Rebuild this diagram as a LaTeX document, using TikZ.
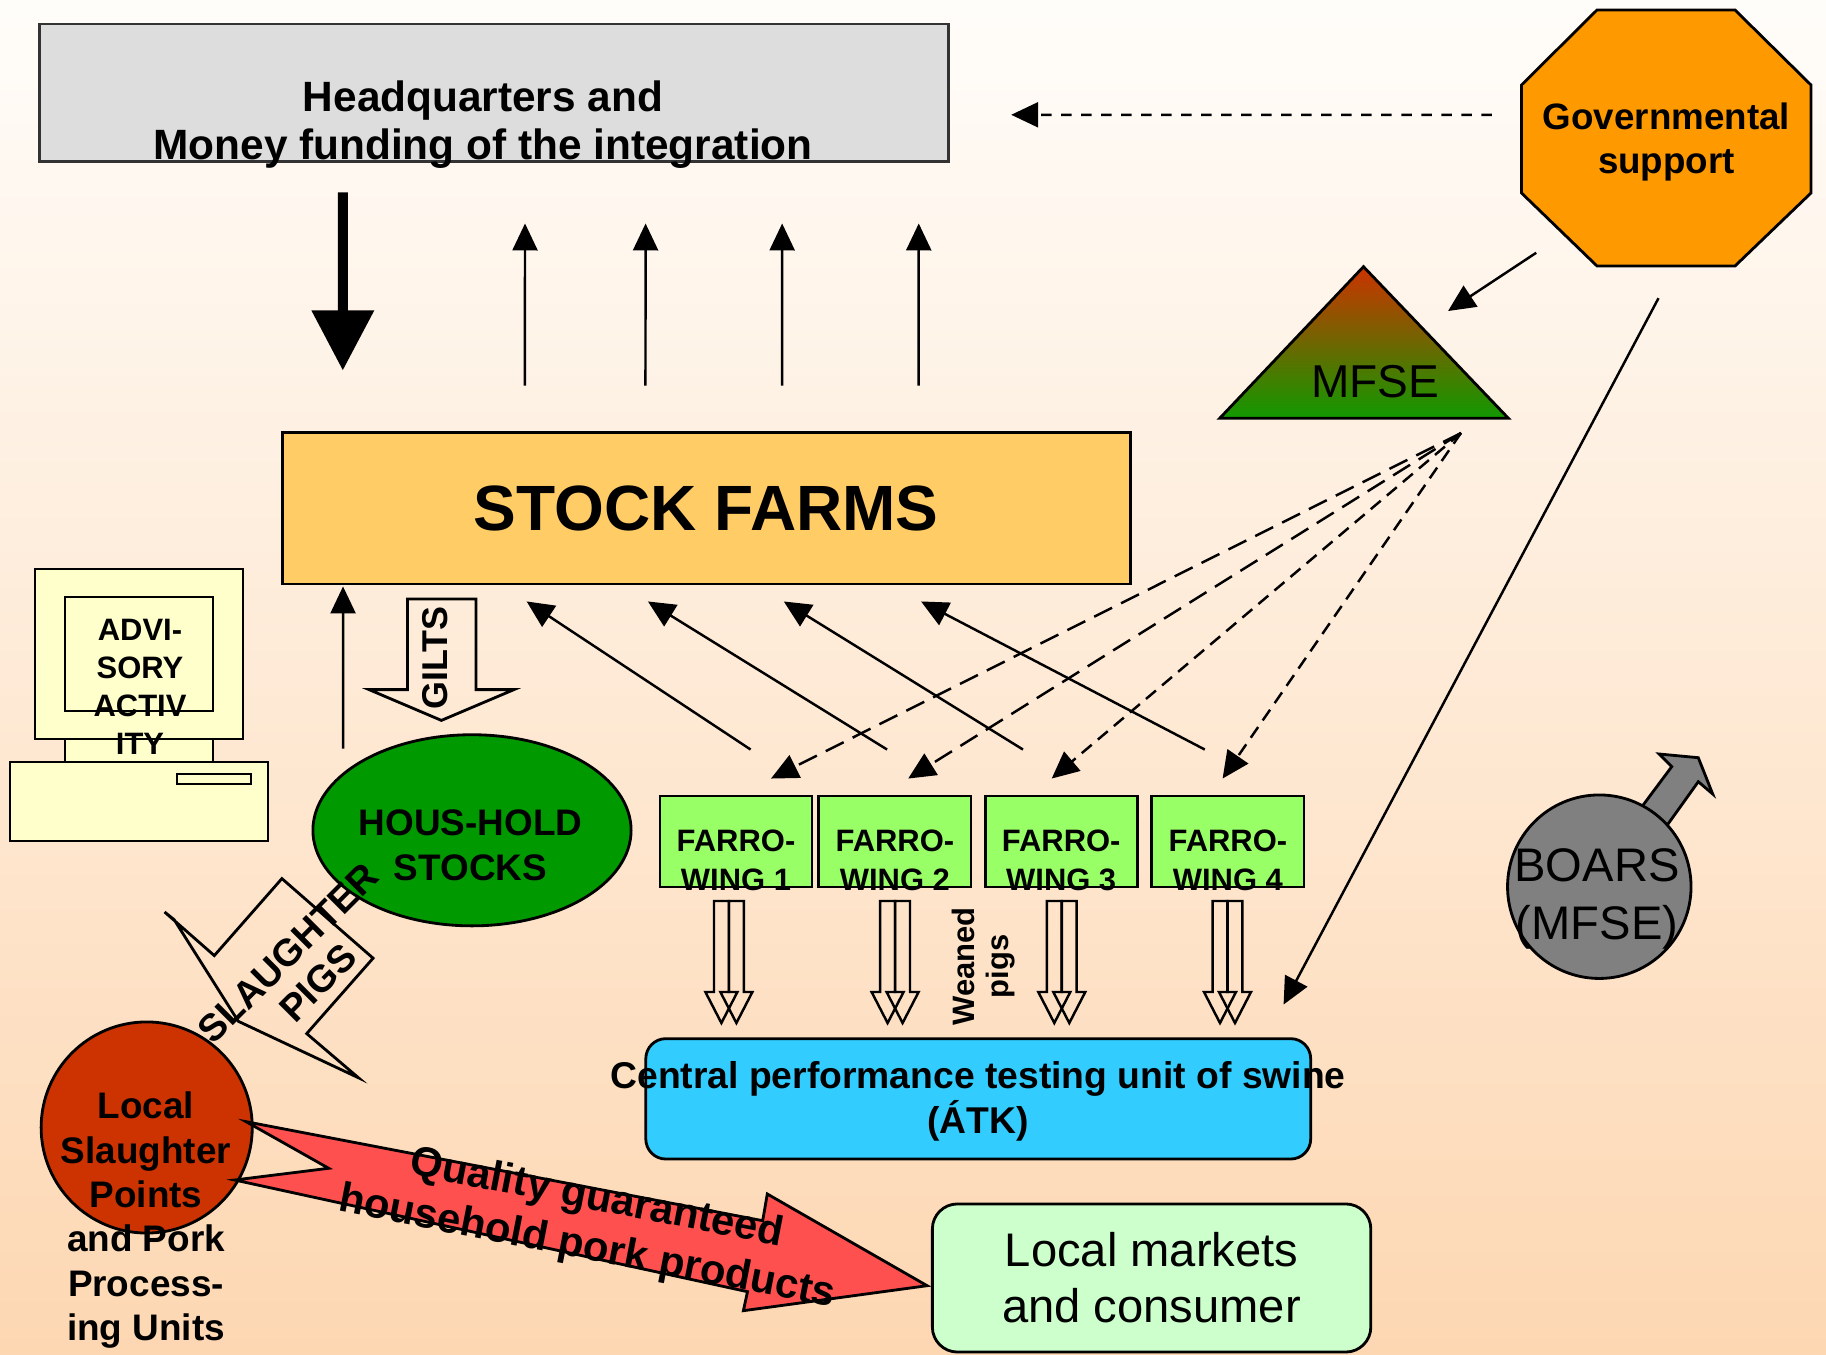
\documentclass[tikz,border=0pt]{standalone}
\usepackage{fontspec}
\setmainfont{Liberation Sans}
\usetikzlibrary{arrows.meta,shapes.geometric}

\definecolor{bgtop}{HTML}{FFFDFA}
\definecolor{bgbot}{HTML}{FDD7B2}
\definecolor{hqgray}{HTML}{DDDDDD}
\definecolor{govorange}{HTML}{FF9900}
\definecolor{mfsered}{HTML}{CC3300}
\definecolor{mfsegreen}{HTML}{119900}
\definecolor{farmyellow}{HTML}{FFCC66}
\definecolor{screenyellow}{HTML}{FFFFCC}
\definecolor{housegreen}{HTML}{009900}
\definecolor{winggreen}{HTML}{99FF66}
\definecolor{atkblue}{HTML}{33CCFF}
\definecolor{meatred}{HTML}{CC3300}
\definecolor{productred}{HTML}{FF5050}
\definecolor{marketgreen}{HTML}{CCFFCC}
\definecolor{boargray}{HTML}{808080}

\newcommand{\fsz}[2]{\fontsize{#1}{#2}\selectfont}

\tikzstyle{block} = [rectangle, draw, line width=0.8pt, inner sep=0pt]
\tikzstyle{txt} = [inner sep=0pt, align=center]
\tikzstyle{arr} = [line width=0.7pt, -{Triangle[length=0.27cm,width=0.25cm]}]
\tikzstyle{govdash} = [arr, dash pattern=on 0.105cm off 0.095cm]
\tikzstyle{longdash} = [arr, dash pattern=on 0.2cm off 0.1cm]
\tikzstyle{shortdash} = [arr, dash pattern=on 0.13cm off 0.08cm]
\tikzstyle{bigarrow} = [line width=0.1cm, -{Triangle[length=0.6cm,width=0.6cm]}]
\tikzstyle{hollow} = [draw, line width=0.7pt, line join=miter]

% one hollow block arrow below a farrowing wing
\newcommand{\pigarrow}[1]{\draw[hollow] (#1-7.4,901) -- (#1+7.4,901) -- (#1+7.4,992) -- (#1+16,992) -- (#1,1023) -- (#1-16,992) -- (#1-7.4,992) -- cycle;}
\newcommand{\pigpair}[1]{\pigarrow{#1+7.5}\pigarrow{#1-7.5}}

\begin{document}
\begin{tikzpicture}[x=0.01cm, y=-0.01cm]
        \useasboundingbox (0,0) rectangle (1826,1355);
        \shade[top color=bgtop, bottom color=bgbot] (0,0) rectangle (1826,1355);

        % Headquarters
        \node[block, draw=black!80, fill=hqgray, minimum width=9.08cm, minimum height=1.375cm] (hq) at (494,92.75) {};
        \node[txt, font=\fsz{12.05pt}{13.6pt}\bfseries] (hqtext) at (483,124.5) {Headquarters and\\Money funding of the integration};

        % Governmental support (octagon)
        \filldraw[fill=govorange, line width=0.8pt] (1597,10) -- (1735,10) -- (1811,85) -- (1811,193) -- (1735,266) -- (1597,266) -- (1521.5,193) -- (1521.5,85) -- cycle;
        \node[txt, minimum width=2.9cm, minimum height=2.56cm, font=\fsz{10.45pt}{12.5pt}\bfseries] (gov) at (1666.4,142) {Governmental\\support};
        \draw[govdash] ([xshift=-0.288cm,yshift=0.272cm]gov.west) -- ([xshift=0.615cm,yshift=-0.2205cm]hq.east);

        % MFSE triangle
        \coordinate (mfsetop) at (1363.5,266.7);
        \coordinate (mfseleft) at (1219.7,418.3);
        \coordinate (mfseright) at (1508.4,418.3);
        \shadedraw[top color=mfsered, bottom color=mfsegreen, line width=0.8pt] (mfsetop) -- (mfseleft) -- (mfseright) -- cycle;
        \node[anchor=base, inner sep=0pt, font=\fsz{13.1pt}{15pt}] (mfse) at (1375,398) {MFSE};
        \coordinate (mfsefan) at (1461,433);
        \draw[arr] ([xshift=0.156cm,yshift=0.18cm]gov.south west) -- ([xshift=0.845cm,yshift=-0.443cm]mfsetop);

        % Stock farms
        \node[block, fill=farmyellow, minimum width=8.475cm, minimum height=1.515cm, font=\fsz{18.2pt}{22pt}\bfseries] (stock) at (706.25,508.25) {STOCK FARMS};
        \draw[bigarrow] ([xshift=-1.51cm,yshift=-0.295cm]hq.south) -- ([xshift=-3.6325cm,yshift=0.605cm]stock.north);
        \draw[arr] ([xshift=-1.8125cm,yshift=0.455cm]stock.north) -- ([xshift=0.31cm,yshift=-0.605cm]hq.south);
        \draw[arr] ([xshift=-0.6075cm,yshift=0.455cm]stock.north) -- ([xshift=1.515cm,yshift=-0.605cm]hq.south);
        \draw[arr] ([xshift=0.7575cm,yshift=0.455cm]stock.north) -- ([xshift=2.88cm,yshift=-0.605cm]hq.south);
        \draw[arr] ([xshift=2.1225cm,yshift=0.455cm]stock.north) -- ([xshift=4.245cm,yshift=-0.605cm]hq.south);

        % Advisory computer
        \filldraw[fill=screenyellow, line width=0.8pt] (35,569) rectangle (243,739);
        \draw[line width=0.8pt] (65,597) rectangle (213,711);
        \filldraw[fill=screenyellow, line width=0.8pt] (65,739) rectangle (213,762);
        \filldraw[fill=screenyellow, line width=0.8pt] (10,762) rectangle (268,841);
        \draw[line width=0.8pt] (177,774) rectangle (251,784);
        \node[txt, font=\fsz{8.8pt}{10.8pt}\bfseries] (advisory) at (140,687.3) {ADVI-\\SORY\\ACTIV\\ITY};

        % Household stocks
        \node[ellipse, draw, line width=0.8pt, fill=housegreen, minimum width=3.18cm, minimum height=1.91cm, inner sep=0pt] (house) at (472,830.3) {};
        \node[txt, font=\fsz{10.5pt}{12.7pt}\bfseries] (housetext) at (470.5,845.5) {HOUS-HOLD\\STOCKS};
        \draw[arr] ([xshift=-1.288cm,yshift=-0.152cm]house.north) -- ([xshift=-3.63cm,yshift=-0.01cm]stock.south);

        % Gilts
        \draw[hollow, line width=0.8pt] (407.5,599) -- (476,599) -- (476,689.6) -- (514,689.6) -- (441.4,720.4) -- (369,689.6) -- (407.5,689.6) -- cycle;
        \node[txt, rotate=90, font=\fsz{10.2pt}{12pt}\bfseries] (gilts) at (435.2,657.8) {GILTS};

        % Slaughter pigs
        \draw[hollow, line width=0.8pt] (164.6,912) -- (214.3,955.6) -- (281.9,878.6) -- (373.1,958.2) -- (306.7,1033.6) -- (358.5,1077.8) -- (238.3,1021.3) -- (174.1,919.6) -- cycle;
        \node[txt, rotate=45, font=\fsz{10.8pt}{12pt}\bfseries] (pigs) at (303,968) {SLAUGHTER\\PIGS};

        % Farrowing wings
        \node[block, fill=winggreen, minimum width=1.52cm, minimum height=0.91cm] (wing1) at (736,841.5) {};
        \node[block, fill=winggreen, minimum width=1.52cm, minimum height=0.91cm] (wing2) at (894.9,841.5) {};
        \node[block, fill=winggreen, minimum width=1.52cm, minimum height=0.91cm] (wing3) at (1061.2,841.5) {};
        \node[block, fill=winggreen, minimum width=1.52cm, minimum height=0.91cm] (wing4) at (1227.9,841.5) {};
        \node[txt, font=\fsz{8.8pt}{11.2pt}\bfseries] (wing1text) at (736,860.5) {FARRO-\\WING 1};
        \node[txt, font=\fsz{8.8pt}{11.2pt}\bfseries] (wing2text) at (894.9,860.5) {FARRO-\\WING 2};
        \node[txt, font=\fsz{8.8pt}{11.2pt}\bfseries] (wing3text) at (1061.2,860.5) {FARRO-\\WING 3};
        \node[txt, font=\fsz{8.8pt}{11.2pt}\bfseries] (wing4text) at (1227.9,860.5) {FARRO-\\WING 4};

        % Wings back to the stock farms
        \draw[arr] ([xshift=0.146cm,yshift=0.45cm]wing1.north) -- ([xshift=-1.795cm,yshift=-0.16cm]stock.south);
        \draw[arr] ([xshift=-0.078cm,yshift=0.45cm]wing2.north) -- ([xshift=-0.583cm,yshift=-0.16cm]stock.south);
        \draw[arr] ([xshift=-0.382cm,yshift=0.45cm]wing3.north) -- ([xshift=0.775cm,yshift=-0.16cm]stock.south);
        \draw[arr] ([xshift=-0.231cm,yshift=0.45cm]wing4.north) -- ([xshift=2.147cm,yshift=-0.16cm]stock.south);

        % MFSE to the wings
        \draw[longdash] (mfsefan) -- ([xshift=0.35cm,yshift=0.16cm]wing1.north);
        \draw[longdash] (mfsefan) -- ([xshift=0.133cm,yshift=0.16cm]wing2.north);
        \draw[shortdash] (mfsefan) -- ([xshift=-0.095cm,yshift=0.16cm]wing3.north);
        \draw[shortdash] (mfsefan) -- ([xshift=-0.053cm,yshift=0.16cm]wing4.north);

        % Central performance testing unit
        \node[block, rounded corners=0.2cm, fill=atkblue, minimum width=6.645cm, minimum height=1.203cm] (central) at (978.25,1098.85) {};
        \node[txt, font=\fsz{10.6pt}{12.8pt}\bfseries] (centraltext) at (978,1101) {Central performance testing unit of swine\\(ÁTK)};
        \pigpair{728.9}
        \pigpair{895.1}
        \pigpair{1061.8}
        \pigpair{1227.5}
        \node[txt, rotate=90, font=\fsz{8.8pt}{9.7pt}\bfseries] (weaned) at (983.7,966.5) {Weaned\\pigs};
        \draw[arr] ([xshift=-0.079cm,yshift=-0.274cm]gov.south) -- ([xshift=-0.285cm,yshift=0.327cm]central.north east);

        % Local slaughter points and products
        \node[circle, draw, line width=0.8pt, fill=meatred, minimum size=2.11cm, inner sep=0pt] (slaughter) at (146.7,1127.5) {};
        \filldraw[fill=productred, line width=0.8pt] (246.1,1121.7) -- (328.7,1168.3) -- (234.6,1180) -- (747.5,1291.7) -- (743.4,1310.7) -- (927.1,1285.7) -- (767.3,1194) -- (762.7,1220.7) -- cycle;
        \node[txt, font=\fsz{10.5pt}{12.6pt}\bfseries] (slaughtertext) at (146,1220.3) {Local\\Slaughter\\Points\\and Pork\\Process-\\ing Units};
        \node[txt, rotate=-11, font=\fsz{11.9pt}{14.2pt}\bfseries] (quality) at (592,1224) {Quality guaranteed\\household pork products};

        % Local markets
        \node[block, rounded corners=0.25cm, fill=marketgreen, minimum width=4.382cm, minimum height=1.48cm, align=center, font=\fsz{13.4pt}{15.9pt}] (markets) at (1151.6,1278) {Local markets\\and consumer};

        % Boars
        \filldraw[fill=boargray, line width=0.8pt] (1629,824) -- (1671.7,766.7) -- (1659,754) -- (1698.3,757.7) -- (1712.7,794) -- (1698.3,781.7) -- (1653,845) -- cycle;
        \node[circle, draw, line width=0.8pt, fill=boargray, minimum size=1.834cm, inner sep=0pt] (boars) at (1599.3,886.7) {};
        \node[txt, font=\fsz{13.4pt}{16.5pt}] (boarstext) at (1597,899) {BOARS\\(MFSE)};
\end{tikzpicture}
\end{document}
